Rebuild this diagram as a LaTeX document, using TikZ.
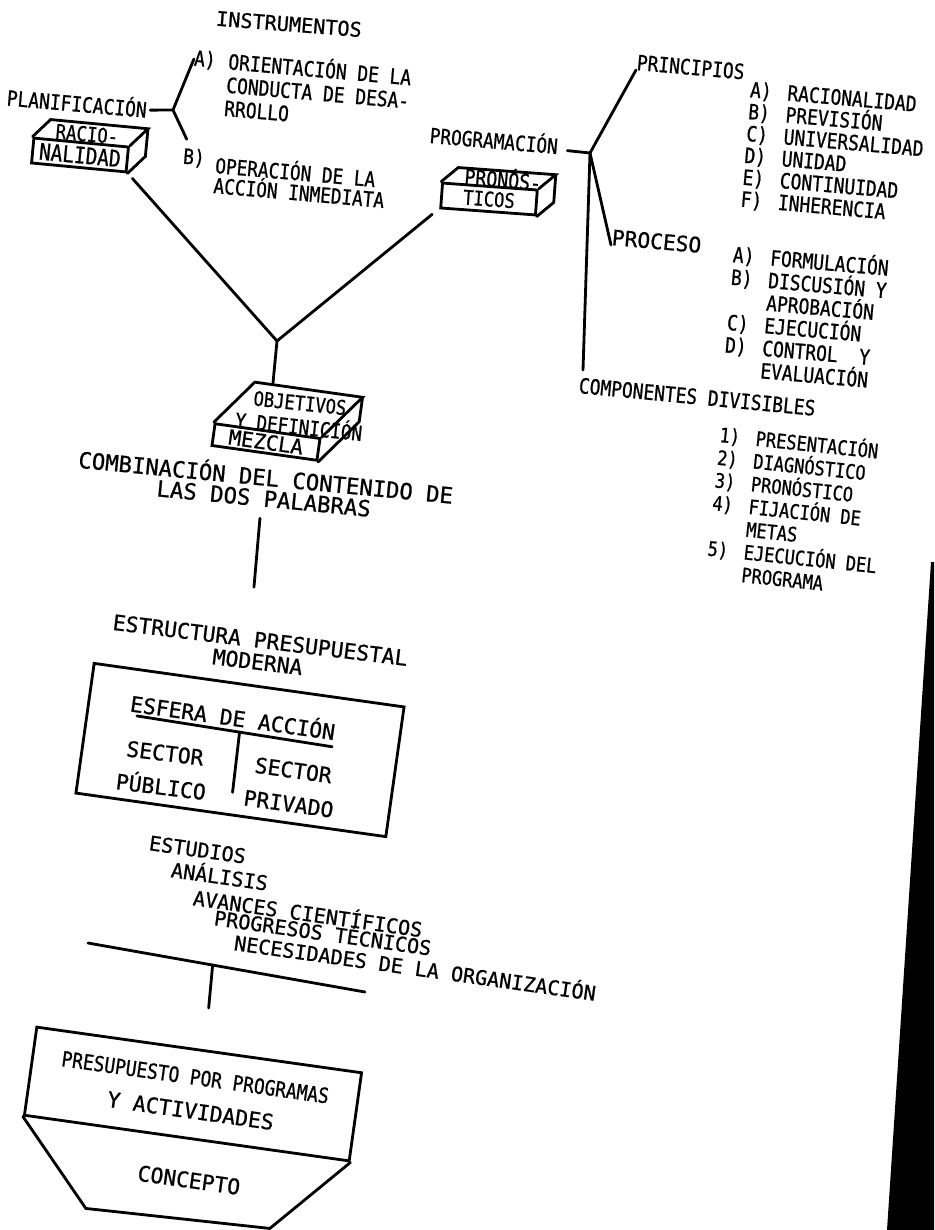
\documentclass[tikz,border=0pt]{standalone}
\usepackage{fontspec}
\newfontfamily\leroy[FakeBold=0.8]{DejaVu Sans Mono}
\newfontfamily\leroyn[FakeStretch=0.85,FakeBold=0.8]{DejaVu Sans Mono}
\newcommand{\lwide}[2]{\leroy\fontsize{#1}{#2}\selectfont\lineskiplimit=-20pt\relax}
\newcommand{\lnarrow}[2]{\leroyn\fontsize{#1}{#2}\selectfont\lineskiplimit=-20pt\relax}
\newcommand{\lgap}{\hspace{9pt}}
\newcommand{\drawsolid}[2]{\draw[link] (#1.north west) -- ($(#1.north west)+(#2)$) -- ($(#1.north east)+(#2)$) -- (#1.north east) (#1.south east) -- ($(#1.south east)+(#2)$) -- ($(#1.north east)+(#2)$);}
\usetikzlibrary{calc}

\begin{document}
\begin{tikzpicture}[x=0.02cm, y=-0.02cm, line cap=round,
  lbl/.style={inner sep=0pt, align=center},
  face/.style={draw, line width=1.6pt, inner sep=0pt, align=center},
  link/.style={line width=1.6pt}]
  \useasboundingbox (0,0) rectangle (934,1230);
  \node[lbl, rotate=-4.5, font=\lwide{11.5}{13}] (instr) at (289,24) {INSTRUMENTOS};
  \node[lbl, rotate=-5, font=\lnarrow{12}{13}] (plan) at (77,102) {PLANIFICACIÓN};
  \node[lbl, rotate=-5, font=\lnarrow{12}{13}] (lblA) at (205,60) {A)};
  \node[lbl, rotate=-5, align=left, font=\lnarrow{12}{13.3}] (instA) at (318,91) {ORIENTACIÓN DE LA\\CONDUCTA DE DESA-\\RROLLO};
  \node[lbl, rotate=-5, font=\lnarrow{12}{13}] (lblB) at (194,158) {B)};
  \node[lbl, rotate=-5, align=left, font=\lnarrow{11.9}{11.4}] (instB) at (300,181) {OPERACIÓN DE LA\\ACCIÓN INMEDIATA};
  \coordinate (fork) at (173,110);
  \draw[link] ($(plan.east)+(3,2)$) -- (fork) -- (lblA.west) (fork) -- ($(lblB.north west)+(3,-8)$);
  \node[face, rotate=-5.4, minimum width=1.9cm, minimum height=0.5cm, font=\lnarrow{13}{14}] (racio) at (80,155) {NALIDAD};
  \drawsolid{racio}{18,-17}
  \node[lbl, rotate=-5, font=\lnarrow{11.6}{12}] (racioT) at (87,134) {RACIO-};
  \node[face, rotate=-4.2, minimum width=1.9cm, minimum height=0.5cm, font=\lnarrow{11.5}{12}] (prono) at (489,199) {TICOS};
  \drawsolid{prono}{17,-14}
  \node[lbl, rotate=-5, font=\lnarrow{12.2}{13}] (pronoT) at (503,178) {PRONÓS-};
  \node[face, rotate=-8, minimum width=2.12cm, minimum height=0.44cm, font=\lwide{11.8}{12}] (obj) at (266,442) {MEZCLA};
  \drawsolid{obj}{41,-40}
  \node[lbl, rotate=-6, font=\lnarrow{11.5}{12}] (objT) at (300,403) {OBJETIVOS};
  \node[lbl, rotate=-6, font=\lnarrow{11.8}{12}] (objD) at (299,425) {Y DEFINICIÓN};
  \coordinate (meet) at (277,341);
  \draw[link] ($(racio.south east)+(5,5)$) -- (meet) -- ($(prono.south west)+(-7,5)$);
  \draw[link] (meet) -- ++(-4,42);
  \node[lbl, rotate=-5, font=\lnarrow{11.9}{13}] (progr) at (494,139) {PROGRAMACIÓN};
  \coordinate (J) at (590,153);
  \node[lbl, rotate=-5, anchor=base west, font=\lnarrow{12}{13}] (princ) at (636,70) {PRINCIPIOS};
  \node[lbl, rotate=-5, anchor=base west, font=\lwide{12.1}{13}] (proce) at (611,245) {PROCESO};
  \node[lbl, rotate=-5.5, anchor=base west, font=\lnarrow{12}{13}] (comp) at (578,393) {COMPONENTES DIVISIBLES};
  \draw[link] ($(progr.east)+(9,6)$) -- (J);
  \draw[link] (princ.base west) -- (J) -- (proce.base west);
  \draw[link] (J) -- ($(comp.base west)+(5,-23)$);
  \node[lbl, rotate=-5, align=left, font=\lnarrow{12}{12.5}] (plist) at (834,153) {A)\lgap RACIONALIDAD\\B)\lgap PREVISIÓN\\C)\lgap UNIVERSALIDAD\\D)\lgap UNIDAD\\E)\lgap CONTINUIDAD\\F)\lgap INHERENCIA};
  \node[lbl, rotate=-5, align=left, font=\lnarrow{12}{12.9}] (pclist) at (806,317) {A)\lgap FORMULACIÓN\\B)\lgap DISCUSIÓN Y\\\phantom{A)}\lgap APROBACIÓN\\C)\lgap EJECUCIÓN\\D)\lgap CONTROL~~Y\\\phantom{D)}\lgap EVALUACIÓN};
  \node[lbl, rotate=-6, align=left, font=\lnarrow{11.4}{13}] (clist) at (797,511) {1)\lgap PRESENTACIÓN\\2)\lgap DIAGNÓSTICO\\3)\lgap PRONÓSTICO\\4)\lgap FIJACIÓN DE\\\phantom{4)}\lgap METAS\\5)\lgap EJECUCIÓN DEL\\\phantom{5)}\lgap PROGRAMA};
  \node[lbl, rotate=-5.5, font=\lwide{12.7}{11.9}] (combi) at (265,486) {COMBINACIÓN DEL CONTENIDO DE\\LAS DOS PALABRAS};
  \draw[link] ($(combi.south)+(-3,11)$) -- ++(-6,69);
  \node[lbl, rotate=-7, font=\lwide{12.2}{12.5}] (estr) at (259,651) {ESTRUCTURA PRESUPUESTAL\\MODERNA};
  \node[face, rotate=-8, minimum width=6.26cm, minimum height=2.62cm] (esfera) at (240,750) {};
  \node[lbl, rotate=-8, font=\lwide{12.2}{13}] (esf) at (233,716) {ESFERA DE ACCIÓN};
  \draw[link] ($(esf.south west)+(8,4)$) -- ($(esf.south east)+(-2,6)$);
  \draw[link] ($(esf.south)+(8,6)$) -- ++(-7,60);
  \node[lbl, rotate=-7, font=\lwide{12.2}{19.3}] (pub) at (163,770) {SECTOR\\PÚBLICO};
  \node[lbl, rotate=-8, font=\lwide{12.2}{19.3}] (priv) at (291,787) {SECTOR\\PRIVADO};
  \node[lbl, rotate=-8, anchor=base west, font=\lwide{11.5}{12}] (est) at (148,850) {ESTUDIOS};
  \node[lbl, rotate=-8, anchor=base west, font=\lwide{11.5}{12}] (ana) at (170,877) {ANÁLISIS};
  \node[lbl, rotate=-8, anchor=base west, font=\lwide{11.5}{12}] (avan) at (192,905) {AVANCES CIENTÍFICOS};
  \node[lbl, rotate=-8, anchor=base west, font=\lwide{11.5}{12}] (prog) at (213,925) {PROGRESOS TÉCNICOS};
  \node[lbl, rotate=-8, anchor=base west, font=\lwide{11.5}{12}] (nec) at (233,950) {NECESIDADES DE LA ORGANIZACIÓN};
  \coordinate (barL) at (88,943);
  \coordinate (barR) at (365,992);
  \draw[link] (barL) -- (barR);
  \draw[link] ($(barL)!0.45!(barR)$) -- ++(-4,43);
  \node[face, rotate=-8, minimum width=6.56cm, minimum height=1.78cm, font=\lwide{12.2}{19.3}] (presu) at (193,1094) {{\lnarrow{12}{19.3}PRESUPUESTO POR PROGRAMAS}\\Y ACTIVIDADES};
  \draw[link] (presu.south west) -- ++(63,92) -- ++(184,20) -- (presu.south east);
  \node[lbl, rotate=-8, font=\lwide{12.2}{13}] (conc) at (189,1180) {CONCEPTO};
  \fill (931,562) -- (934,562) -- (934,1230) -- (887,1230) -- cycle;
\end{tikzpicture}
\end{document}
